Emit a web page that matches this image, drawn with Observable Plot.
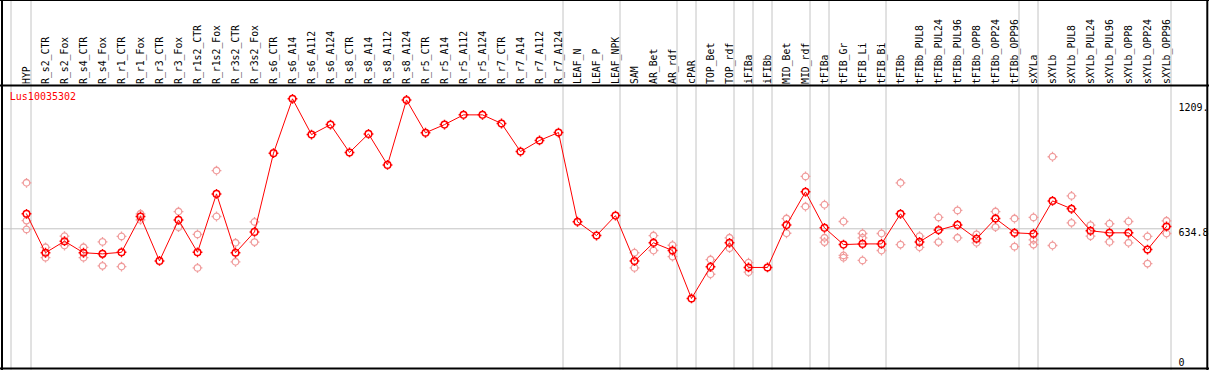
<!DOCTYPE html>
<html>
<head>
<meta charset="utf-8">
<script src="https://cdn.jsdelivr.net/npm/d3@7"></script>
<script src="https://cdn.jsdelivr.net/npm/@observablehq/plot@0.6"></script>
<style>
  html, body { margin: 0; padding: 0; background: #fff; }
  #chart svg { display: block; }
</style>
</head>
<body>
<div id="chart"></div>
<script>
const geneName = "Lus10035302";

const categories = [
  "HYP",
  "R_s2_CTR","R_s2_Fox","R_s4_CTR","R_s4_Fox","R_r1_CTR","R_r1_Fox","R_r3_CTR","R_r3_Fox",
  "R_r1s2_CTR","R_r1s2_Fox","R_r3s2_CTR","R_r3s2_Fox",
  "R_s6_CTR","R_s6_A14","R_s6_A112","R_s6_A124","R_s8_CTR","R_s8_A14","R_s8_A112","R_s8_A124",
  "R_r5_CTR","R_r5_A14","R_r5_A112","R_r5_A124","R_r7_CTR","R_r7_A14","R_r7_A112","R_r7_A124",
  "LEAF_N","LEAF_P","LEAF_NPK",
  "SAM","AR_Bet","AR_rdf","cPAR","TOP_Bet","TOP_rdf","iFIBa","iFIBb","MID_Bet","MID_rdf",
  "tFIBa","tFIB_Gr","tFIB_Li","tFIB_Bi",
  "tFIBb","tFIBb_PUL8","tFIBb_PUL24","tFIBb_PUL96","tFIBb_OPP8","tFIBb_OPP24","tFIBb_OPP96",
  "sXYLa",
  "sXYLb","sXYLb_PUL8","sXYLb_PUL24","sXYLb_PUL96","sXYLb_OPP8","sXYLb_OPP24","sXYLb_OPP96"
];

const means = [
  701,
  529,580,529,524,531,689,493,674,
  531,789,529,621,
  969,1209,1051,1095,972,1054,917,1204,
  1059,1095,1138,1138,1100,976,1025,1060,
  666,605,693,
  492,573,539,327,467,573,464,464,651,798,
  639,565,568,568,
  701,577,629,652,591,680,617,
  613,
  758,723,626,617,617,543,645
];

const replicates = [
  [838,671,632],
  [553,507],[602,561],[553,507],[577,471],[601,468],[701,674],[],[711,642],
  [610,462],[892,689],[573,489],[665,576],
  [],[],[],[],[],[],[],[],
  [],[],[],[],[],[],[],[],
  [],[],[],
  [529,462],[605,539],[562,512],[],[499,434],[595,549],[485,443],[],[680,615],[866,733],
  [741,595,576],[667,517,507],[614,595,495],[614,539],
  [838,565],[602,553],[685,576],[716,595],[610,573],[711,642],[680,556],
  [685,586,565],
  [953,561],[780,661],[651,602],[657,577],[667,573],[601,481],[670,614]
];

const groupEnds = ["HYP","R_r7_A124","LEAF_NPK","AR_rdf","cPAR","TOP_rdf","iFIBa","iFIBb",
  "MID_rdf","tFIBa","tFIB_Bi","tFIBb_OPP96","sXYLa","sXYLb_OPP96"];

const refValue = 634.8;
const yTicks = [0, 634.8, 1209];
const yTickLabels = ["0", "634.8", "1209."];

// tables built from the arrays
const meanRows = categories.map((c, i) => ({cat: c, value: means[i]}));
const repRows = categories.flatMap((c, i) => replicates[i].map(v => ({cat: c, value: v})));

// circle with four small ticks
const tickedCircle = {
  draw(context, size) {
    const r = Math.sqrt(size / Math.PI);
    context.moveTo(r, 0);
    context.arc(0, 0, r, 0, 2 * Math.PI);
    const t = 1.6;
    context.moveTo(0, -r); context.lineTo(0, -r - t);
    context.moveTo(0, r); context.lineTo(0, r + t);
    context.moveTo(-r, 0); context.lineTo(-r - t, 0);
    context.moveTo(r, 0); context.lineTo(r + t, 0);
  }
};

const tickDy = [-10, 4, 8.5];

const chart = Plot.plot({
  width: 1209,
  height: 370,
  marginLeft: 1,
  marginRight: 39,
  marginTop: 0,
  marginBottom: 0,
  style: {fontFamily: "'DejaVu Sans Mono', monospace", fontSize: "10px", background: "#fff", color: "#000"},
  x: {type: "point", domain: categories, range: [26, 1166], padding: 0, axis: null},
  y: {domain: [0, 1209], range: [372, 98.3], axis: null},
  marks: [
    Plot.ruleX(groupEnds, {x: d => d, dx: 4.5, stroke: "#c4c4c4", strokeWidth: 1}),
    Plot.ruleX([categories[0]], {x: d => d, dx: -15.5, stroke: "#c4c4c4", strokeWidth: 1}),
    Plot.ruleY([refValue], {y: d => d, stroke: "#c4c4c4", strokeWidth: 1}),
    Plot.text(categories, {
      x: d => d, text: d => d, rotate: -90, textAnchor: "start", lineAnchor: "middle",
      frameAnchor: "top", dy: 83.5, fill: "#000", fontSize: 9.8
    }),
    Plot.dot(repRows, {x: "cat", y: "value", r: 3.3, symbol: tickedCircle, stroke: "#f09c9c", strokeWidth: 1.3, fill: "none"}),
    Plot.line(meanRows, {x: "cat", y: "value", stroke: "#ff0000", strokeWidth: 1, curve: "linear"}),
    Plot.dot(meanRows, {x: "cat", y: "value", r: 3.3, symbol: tickedCircle, stroke: "#ff0000", strokeWidth: 1.5, fill: "none"}),
    ...yTicks.map((t, i) => Plot.text([t], {
      y: d => d, text: () => yTickLabels[i], frameAnchor: "right", dx: 8, dy: tickDy[i],
      textAnchor: "start", lineAnchor: "middle", fill: "#000", fontSize: 10
    })),
    Plot.text([geneName], {
      text: d => d, frameAnchor: "top-left", dx: 8.3, dy: 96.7, textAnchor: "start",
      lineAnchor: "middle", fill: "#ff0000", fontSize: 10
    })
  ]
});

document.getElementById("chart").appendChild(chart);

// frame border and header separator
const svg = d3.select(chart);
const g = svg.append("g").attr("stroke", "#000").attr("fill", "none");
g.append("line").attr("x1", 0).attr("x2", 1209).attr("y1", 0.5).attr("y2", 0.5).attr("stroke-width", 1);
g.append("line").attr("x1", 0).attr("x2", 1209).attr("y1", 85.5).attr("y2", 85.5).attr("stroke-width", 2);
g.append("line").attr("x1", 0).attr("x2", 1209).attr("y1", 368.5).attr("y2", 368.5).attr("stroke-width", 2);
g.append("line").attr("x1", 2).attr("x2", 2).attr("y1", 0).attr("y2", 370).attr("stroke-width", 2);
g.append("line").attr("x1", 1207.3).attr("x2", 1207.3).attr("y1", 0).attr("y2", 370).attr("stroke-width", 2);
</script>
</body>
</html>
